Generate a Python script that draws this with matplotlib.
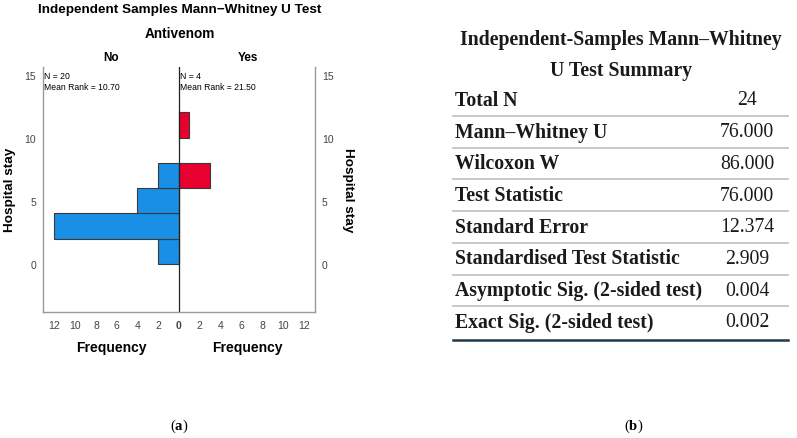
import matplotlib
matplotlib.use("Agg")
import matplotlib.pyplot as plt
import numpy as np
from matplotlib.lines import Line2D

# histogram data: hospital stay bins (lower edge) and frequencies
bin_edges = [0, 2, 4, 6, 10]
bin_width = 2
freq_no = [2, 12, 4, 2, 0]
freq_yes = [0, 0, 0, 3, 1]
freq_ticks = [-12, -10, -8, -6, -4, -2, 0, 2, 4, 6, 8, 10, 12]
stay_ticks = [0, 5, 10, 15]

# summary table
row_labels = [
    "Total N",
    "Mann\u2013Whitney U",
    "Wilcoxon W",
    "Test Statistic",
    "Standard Error",
    "Standardised Test Statistic",
    "Asymptotic Sig. (2-sided test)",
    "Exact Sig. (2-sided test)",
]
row_values = ["24", "76.000", "86.000", "76.000", "12.374", "2.909", "0.004", "0.002"]

plt.rcParams["mathtext.fontset"] = "custom"
plt.rcParams["mathtext.rm"] = "Liberation Serif"
plt.rcParams["mathtext.bf"] = "Liberation Serif:bold"

W, H = 797, 439
fig = plt.figure(figsize=(W / 100, H / 100), dpi=100)
fig.patch.set_facecolor("white")

sans = "Liberation Sans"
serif = "Liberation Serif"

# ---- panel (a): population pyramid style histogram
ax_l, ax_r, ax_t, ax_b = 43, 315, 68, 313
ax = fig.add_axes([ax_l / W, 1 - ax_b / H, (ax_r - ax_l) / W, (ax_b - ax_t) / H])
blue = "#1a8fe6"
red = "#e8002e"
edge = "#3a3a3a"
ax.barh(bin_edges, [-f for f in freq_no], height=bin_width, align="edge",
        color=blue, edgecolor=edge, linewidth=0.8)
ax.barh(bin_edges, freq_yes, height=bin_width, align="edge",
        color=red, edgecolor=edge, linewidth=0.8)
ax.axvline(0, color="#222222", linewidth=0.9)
ax.set_xlim(-13.1, 13.1)
ax.set_ylim(-3.8, 15.6)
ax.set_xticks(freq_ticks)
ax.set_xticklabels([str(abs(t)) for t in freq_ticks])
for lab in ax.get_xticklabels():
    if lab.get_text() == "0":
        lab.set_fontweight("bold")
ax.set_yticks(stay_ticks)
ax.tick_params(axis="both", length=0, labelsize=7.5, colors="#444444", pad=5)
ax.tick_params(axis="x", pad=6)
ax.tick_params(axis="y", labelright=True)
for lab in ax.get_xticklabels() + ax.get_yticklabels():
    lab.set_family(sans)
ax.spines["top"].set_visible(False)
for s in ("left", "right", "bottom"):
    ax.spines[s].set_color("#999999")
    ax.spines[s].set_linewidth(1.0)

ax.text(0.005, 0.985, "N = 20\nMean Rank = 10.70", transform=ax.transAxes,
        ha="left", va="top", fontsize=6.2, family=sans, linespacing=1.3)
ax.text(0.505, 0.985, "N = 4\nMean Rank = 21.50", transform=ax.transAxes,
        ha="left", va="top", fontsize=6.2, family=sans, linespacing=1.3)

fig.text(180 / W, 1 - 10 / H, "Independent Samples Mann\u2212Whitney U Test",
         ha="center", va="center", fontsize=9.7, fontweight="bold", family=sans)
fig.text(180 / W, 1 - 34 / H, "Antivenom", ha="center", va="center",
         fontsize=9.8, fontweight="bold", family=sans)
fig.text(111 / W, 1 - 58 / H, "No", ha="center", va="center",
         fontsize=8.5, fontweight="bold", family=sans)
fig.text(248 / W, 1 - 58 / H, "Yes", ha="center", va="center",
         fontsize=8.5, fontweight="bold", family=sans)
fig.text(111 / W, 1 - 348 / H, "Frequency", ha="center", va="center",
         fontsize=10, fontweight="bold", family=sans)
fig.text(247 / W, 1 - 348 / H, "Frequency", ha="center", va="center",
         fontsize=10, fontweight="bold", family=sans)
fig.text(10 / W, 1 - 190 / H, "Hospital stay", ha="center", va="center",
         rotation=90, fontsize=9.7, fontweight="bold", family=sans)
fig.text(348 / W, 1 - 190 / H, "Hospital stay", ha="center", va="center",
         rotation=270, fontsize=9.7, fontweight="bold", family=sans)
fig.text(179 / W, 1 - 426 / H, r"($\mathbf{a}$)", ha="center", va="center",
         fontsize=10.5, family=serif)

# ---- panel (b): summary table
tab = fig.add_axes([0, 0, 1, 1])
tab.set_xlim(0, W)
tab.set_ylim(H, 0)
tab.axis("off")
tab.patch.set_alpha(0)

tab.text(621, 40, "Independent-Samples Mann\u2013Whitney", ha="center", va="center",
         fontsize=14.2, fontweight="bold", family=serif, color="#1a1a1a")
tab.text(621, 71, "U Test Summary", ha="center", va="center",
         fontsize=14.2, fontweight="bold", family=serif, color="#1a1a1a")

row_y0, row_dy = 101, 31.7
for i, (lab, val) in enumerate(zip(row_labels, row_values)):
    y = row_y0 + i * row_dy
    tab.text(455, y, lab, ha="left", va="center", fontsize=14.2,
             fontweight="bold", family=serif, color="#1a1a1a")
    tab.text(747, y, val, ha="center", va="center", fontsize=14.2,
             family=serif, color="#1a1a1a")
    ly = y + 16
    if i < len(row_labels) - 1:
        tab.add_line(Line2D([453, 788], [ly, ly], color="#c8c8c8", linewidth=1.4))
    else:
        tab.add_line(Line2D([453, 788], [ly + 2, ly + 2], color="#1f3a4a", linewidth=1.8))

tab.text(634, 426, r"($\mathbf{b}$)", ha="center", va="center", fontsize=10.5, family=serif)

fig.savefig("out.png", dpi=100)
